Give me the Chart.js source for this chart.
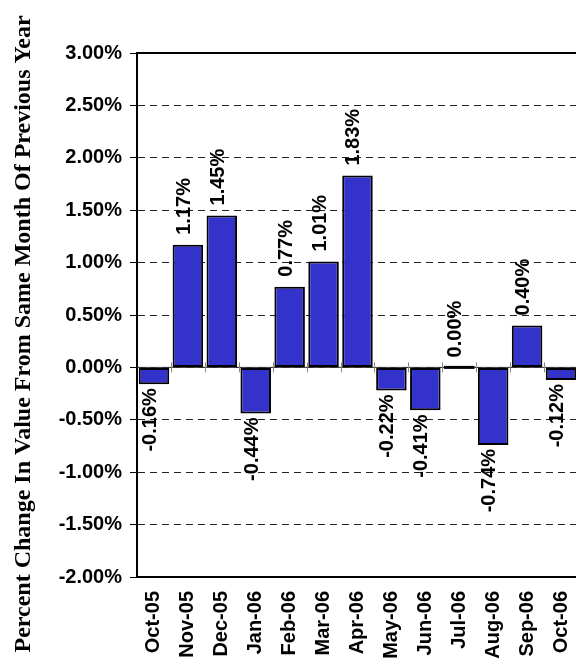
<!DOCTYPE html>
<html>
<head>
<meta charset="utf-8">
<script src="https://cdn.jsdelivr.net/npm/chart.js@4/dist/chart.umd.min.js"></script>
<style>
html, body { margin: 0; padding: 0; background: #fff; overflow: hidden; }
#wrap { width: 576px; height: 664px; overflow: hidden; }
</style>
</head>
<body>
<div id="wrap"><canvas id="myChart" width="591" height="664"></canvas></div>
<script>
const months = ['Oct-05', 'Nov-05', 'Dec-05', 'Jan-06', 'Feb-06', 'Mar-06', 'Apr-06',
                'May-06', 'Jun-06', 'Jul-06', 'Aug-06', 'Sep-06', 'Oct-06'];
const changeValues = [-0.16, 1.17, 1.45, -0.44, 0.77, 1.01, 1.83, -0.22, -0.41, 0.00, -0.74, 0.40, -0.12];
const yTitle = 'Percent Change In Value From Same Month Of Previous Year';
const yMin = -2;
const yMax = 3;
const yStep = 0.5;

const sansBold = { family: '"Liberation Sans", Arial, sans-serif', weight: 'bold', size: 20 };

// labels on top / under each bar, rotated like the original
const valueLabels = {
  id: 'valueLabels',
  afterDatasetsDraw(chart) {
    const ctx = chart.ctx;
    const meta = chart.getDatasetMeta(0);
    const y0 = chart.scales.y.getPixelForValue(0);
    ctx.save();
    // flat bars (0.00%) show as a thick line on the axis
    ctx.strokeStyle = '#000';
    ctx.lineWidth = 3;
    meta.data.forEach((bar, i) => {
      if (changeValues[i] === 0) {
        ctx.beginPath();
        ctx.moveTo(bar.x - bar.width / 2, y0);
        ctx.lineTo(bar.x + bar.width / 2, y0);
        ctx.stroke();
      }
    });
    ctx.font = 'bold 20px "Liberation Sans", Arial, sans-serif';
    ctx.fillStyle = '#000';
    ctx.textBaseline = 'alphabetic';
    meta.data.forEach((bar, i) => {
      const v = changeValues[i];
      const text = v.toFixed(2) + '%';
      ctx.save();
      if (v >= 0) {
        ctx.translate(bar.x + 2, Math.min(bar.y, y0) - 10);
        ctx.rotate(-Math.PI / 2);
        ctx.textAlign = 'left';
      } else {
        ctx.translate(bar.x + 2, bar.y + 4);
        ctx.rotate(-Math.PI / 2);
        ctx.textAlign = 'right';
      }
      ctx.fillText(text, 0, 0);
      ctx.restore();
    });
    ctx.restore();
  }
};

// zero axis line with crossing ticks, solid top/bottom frame and the y title
const frameLines = {
  id: 'frameLines',
  beforeDatasetsDraw(chart) {
    const { ctx, chartArea, scales } = chart;
    const y0 = scales.y.getPixelForValue(0);
    ctx.save();
    ctx.strokeStyle = '#333';
    ctx.lineWidth = 1;
    ctx.beginPath();
    ctx.moveTo(chartArea.left, y0);
    ctx.lineTo(chartArea.right, y0);
    ctx.stroke();
    ctx.strokeStyle = '#888';
    for (let i = 1; i < months.length; i++) {
      const x = Math.round(scales.x.getPixelForValue(i - 0.5)) + 0.5;
      ctx.beginPath();
      ctx.moveTo(x, y0 - 5);
      ctx.lineTo(x, y0 + 5);
      ctx.stroke();
    }
    ctx.restore();
  },
  afterDraw(chart) {
    const { ctx, chartArea } = chart;
    ctx.save();
    ctx.strokeStyle = '#000';
    ctx.lineWidth = 2;
    ctx.beginPath();
    ctx.moveTo(chartArea.left, chartArea.top);
    ctx.lineTo(chartArea.right, chartArea.top);
    ctx.moveTo(chartArea.left, chartArea.bottom);
    ctx.lineTo(chartArea.right, chartArea.bottom);
    ctx.stroke();

    ctx.font = 'bold 24px "Liberation Serif", "Times New Roman", serif';
    ctx.fillStyle = '#000';
    ctx.textAlign = 'center';
    ctx.textBaseline = 'alphabetic';
    ctx.translate(30, 334);
    ctx.rotate(-Math.PI / 2);
    ctx.fillText(yTitle, 0, 0);
    ctx.restore();
  }
};

const ctx = document.getElementById('myChart');

new Chart(ctx, {
  type: 'bar',
  data: {
    labels: months,
    datasets: [{
      data: changeValues,
      backgroundColor: '#3333CC',
      borderColor: '#000',
      borderWidth: 2,
      borderSkipped: false,
      barPercentage: 0.9,
      categoryPercentage: 1
    }]
  },
  options: {
    responsive: false,
    animation: false,
    layout: { padding: { top: 53, left: 0, right: 0, bottom: 0 } },
    plugins: {
      legend: { display: false },
      tooltip: { enabled: false }
    },
    scales: {
      x: {
        grid: { display: false },
        border: { display: false },
        ticks: {
          autoSkip: false,
          minRotation: 90,
          maxRotation: 90,
          padding: 6,
          color: '#000',
          font: sansBold
        },
        afterFit(scale) { scale.height = 87; }
      },
      y: {
        min: yMin,
        max: yMax,
        ticks: {
          stepSize: yStep,
          padding: 8,
          color: '#000',
          font: { family: '"Liberation Sans", Arial, sans-serif', weight: 'bold', size: 20 },
          callback: v => v.toFixed(2) + '%'
        },
        grid: {
          color: '#222',
          lineWidth: 1,
          drawTicks: true,
          tickLength: 7,
          tickColor: '#000'
        },
        border: { display: true, color: '#000', width: 2, dash: [7, 5] },
        afterFit(scale) { scale.width = 137; }
      }
    }
  },
  plugins: [frameLines, valueLabels]
});
</script>
</body>
</html>
